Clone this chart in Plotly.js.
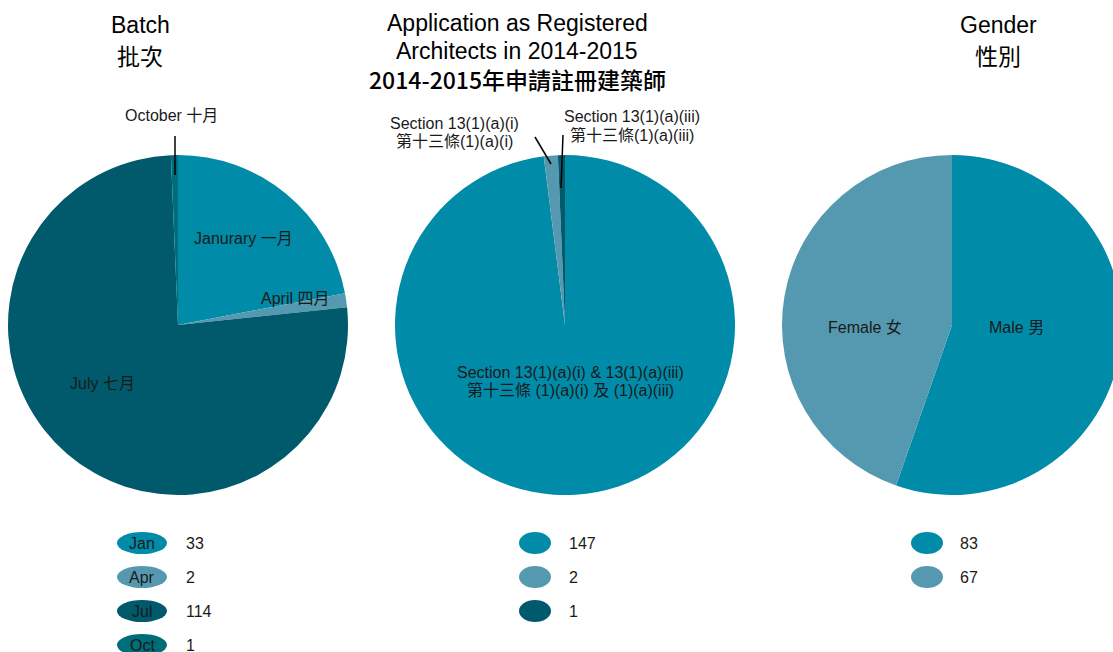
<!DOCTYPE html>
<html>
<head>
<meta charset="utf-8">
<script src="https://cdn.plot.ly/plotly-3.0.1.min.js"></script>
<style>
html,body{margin:0;padding:0;overflow:hidden;background:#fff;width:1113px;height:652px;}
#chart{width:1130px;height:652px;}
</style>
</head>
<body>
<div id="chart"></div>
<script>
// ---- Data ----
const batchLabels = ["Janurary 一月", "April 四月", "July 七月", "October 十月"];
const batchShort = ["Jan", "Apr", "Jul", "Oct"];
const batchValues = [33, 2, 114, 1];
const batchColors = ["#008ba8", "#5599b0", "#005a6c", "#006d7a"];

const appLabels = ["Section 13(1)(a)(i) & 13(1)(a)(iii)<br>第十三條 (1)(a)(i) 及 (1)(a)(iii)",
                   "Section 13(1)(a)(i)<br>第十三條(1)(a)(i)",
                   "Section 13(1)(a)(iii)<br>第十三條(1)(a)(iii)"];
const appValues = [147, 2, 1];
const appColors = ["#008ba8", "#5599b0", "#005a6c"];

const genderLabels = ["Male 男", "Female 女"];
const genderValues = [83, 67];
const genderColors = ["#008ba8", "#5599b0"];

const titles = ["Batch<br>批次",
  "Application as Registered<br>Architects in 2014-2015<br>2014-2015年申請註冊建築師",
  "Gender<br>性別"];

// ---- Layout helpers ----
const W = 1130, H = 652;
const px = x => x / W;
const py = y => 1 - y / H;
const R = 170;
const centers = [[178, 325], [565, 325], [952, 325]];
function dom(c) {
  return {x: [px(c[0] - R), px(c[0] + R)], y: [py(c[1] + R), py(c[1] - R)]};
}
const FONT = "Liberation Sans, Arial, Noto Sans CJK TC, sans-serif";
const CJKFONT = "Noto Sans CJK TC, sans-serif";
const TXT = "#1a1a1a";

function pie(labels, values, colors, c) {
  return {
    type: "pie", labels: labels, values: values, sort: false,
    direction: "clockwise", rotation: 0, textinfo: "none", hoverinfo: "label+value",
    marker: {colors: colors, line: {width: 0}}, domain: dom(c), showlegend: false
  };
}

const data = [
  pie(batchLabels, batchValues, batchColors, centers[0]),
  pie(appLabels, appValues, appColors, centers[1]),
  pie(genderLabels, genderValues, genderColors, centers[2])
];

const annotations = [];
const shapes = [];
function ann(text, x, y, size, extra) {
  annotations.push(Object.assign({
    text: text, x: px(x), y: py(y), xref: "paper", yref: "paper",
    showarrow: false, xanchor: "center", yanchor: "middle",
    font: {family: FONT, size: size || 16, color: TXT}
  }, extra || {}));
}
// multi-line text: each line its own annotation, spaced by "gap" px
function annLines(text, x, y, size, gap, fonts) {
  const parts = text.split("<br>");
  parts.forEach((t, i) => {
    const yy = y + (i - (parts.length - 1) / 2) * gap;
    const f = (fonts && fonts[i]) || {family: FONT, size: size, color: TXT};
    ann(t, x, yy, size, {font: f});
  });
}
function line(x0, y0, x1, y1) {
  shapes.push({type: "line", xref: "paper", yref: "paper",
    x0: px(x0), y0: py(y0), x1: px(x1), y1: py(y1),
    line: {color: "#000", width: 1.5}});
}

// titles
const TF = {family: FONT, size: 23, color: "#000"};
annLines(titles[0], 140, 40, 23, 30, [TF, {family: CJKFONT, size: 23, color: "#000"}]);
annLines(titles[1], 517, 51, 23, 27.5, [TF, TF, {family: CJKFONT, size: 23, color: "#000", weight: 500}]);
annLines(titles[2], 998, 40, 23, 30, [TF, {family: CJKFONT, size: 23, color: "#000"}]);

// slice labels
ann(batchLabels[0], 243, 238);
ann(batchLabels[1], 295, 298);
ann(batchLabels[2], 102, 383);
ann(batchLabels[3], 171, 116);
line(175, 136, 175, 175);

annLines(appLabels[0], 570, 381, 16, 18);
annLines(appLabels[1], 454, 132, 16, 18);
annLines(appLabels[2], 632, 126, 16, 18);
line(535, 137, 551, 164);
line(563, 135, 561, 188);

ann(genderLabels[1], 865, 327);
ann(genderLabels[0], 1016, 327);

// custom legends
function legend(values, colors, shortLabels, cx, ew, tx) {
  values.forEach((v, i) => {
    const cy = 543 + i * 34;
    shapes.push({type: "circle", xref: "paper", yref: "paper",
      x0: px(cx - ew / 2), x1: px(cx + ew / 2), y0: py(cy + 11), y1: py(cy - 11),
      fillcolor: colors[i], line: {width: 0}});
    if (shortLabels) ann(shortLabels[i], cx, cy, 16);
    ann(String(v), tx, cy, 16, {xanchor: "left"});
  });
}
legend(batchValues, batchColors, batchShort, 142, 50, 184);
legend(appValues, appColors, null, 535, 32, 567);
legend(genderValues, genderColors, null, 927, 32, 958);

const layout = {
  width: W, height: H, margin: {l: 0, r: 0, t: 0, b: 0},
  paper_bgcolor: "#fff", plot_bgcolor: "#fff",
  annotations: annotations, shapes: shapes, showlegend: false,
  font: {family: FONT}
};
Plotly.newPlot("chart", data, layout, {displayModeBar: false, staticPlot: true});
</script>
</body>
</html>
